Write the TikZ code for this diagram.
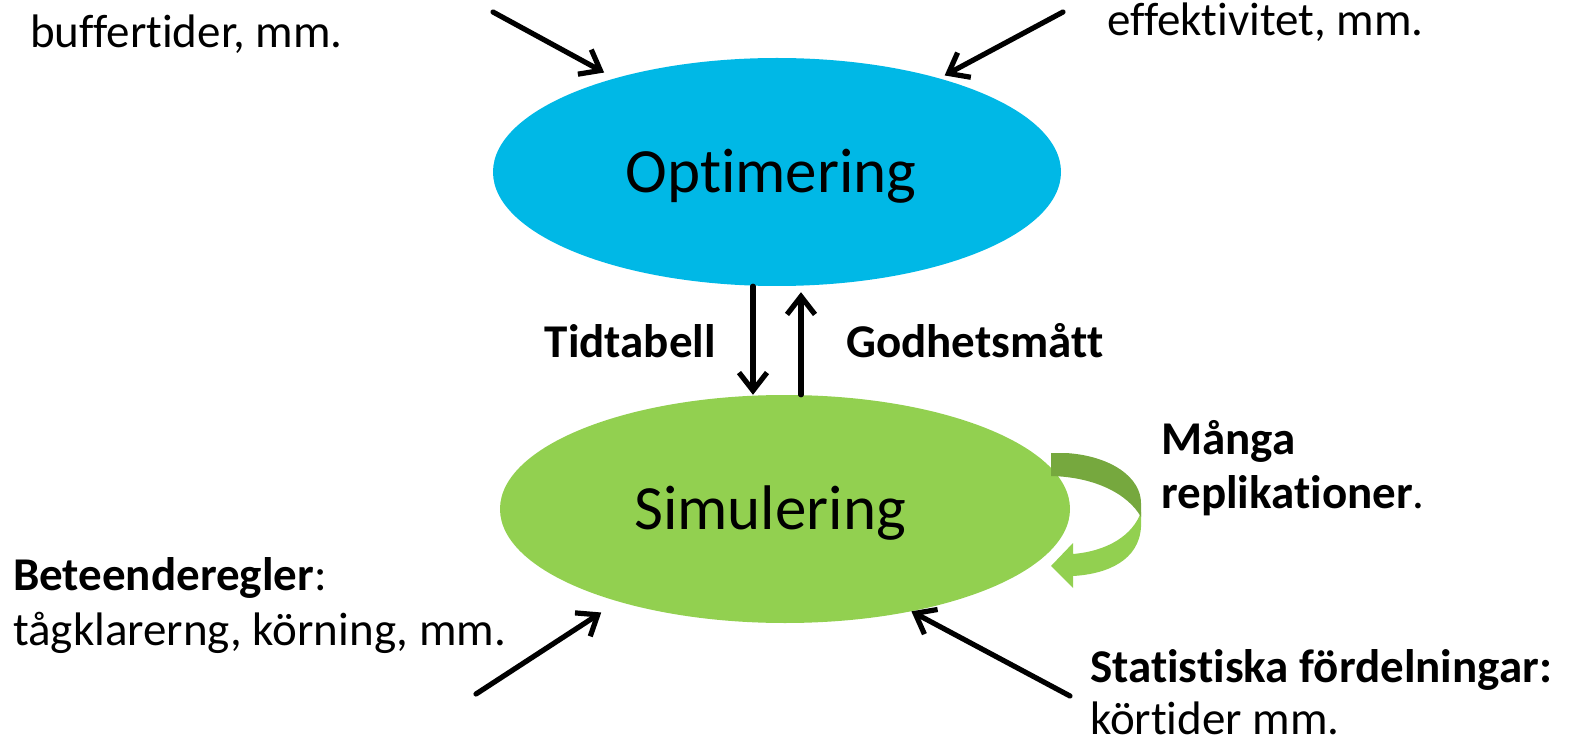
\documentclass[tikz,border=0pt]{standalone}
\usepackage{fontspec}
\setmainfont{Carlito}[Ligatures={NoCommon}]
\usetikzlibrary{shapes.geometric,arrows.meta}
\definecolor{optblue}{RGB}{0,184,230}
\definecolor{simgreen}{RGB}{146,208,80}
\definecolor{loopdark}{RGB}{118,168,62}
\tikzset{
  blob/.style={ellipse, minimum width=568pt, minimum height=228pt, inner sep=0pt, draw=none},
  big/.style={font=\fontsize{63}{76}\selectfont, inner sep=0pt, anchor=base},
  lbl/.style={font=\fontsize{47}{56}\selectfont, inner sep=0pt, anchor=base west},
  arr/.style={line width=5.2pt, line cap=round, -{Straight Barb[length=18pt,width=28pt]}},
}
\begin{document}
\begin{tikzpicture}[x=1pt,y=-1pt]
\useasboundingbox (0,0) rectangle (1569,743);

% the two process ellipses
\node[blob, fill=optblue] (opt) at (777,172) {};
\node[big] (optlabel) at (771,193) {Optimering};
\node[blob, fill=simgreen, minimum width=570pt] (sim) at (785,509) {};
\node[big] (simlabel) at (770,529) {Simulering};

% looping ribbon arrow: repeated replications
\fill[simgreen] (1141,512) -- (1141,527)
  .. controls (1139,560) and (1108,574) .. (1073,576)
  -- (1073,588) -- (1051,566) -- (1073,543) -- (1073,554)
  .. controls (1108,551) and (1133,535) .. (1141,512) -- cycle;
\fill[loopdark] (1051,453) -- (1066,453)
  .. controls (1112,456) and (1141,478) .. (1141,503)
  -- (1141,517)
  .. controls (1128,494) and (1095,477) .. (1051,476) -- cycle;

% text blocks
\node[lbl] (buf) at (30,48) {buffertider, mm.};
\node[lbl] (eff) at (1107,36) {effektivitet, mm.};
\node[lbl, anchor=base east] (tid) at (716,357) {\bfseries Tidtabell};
\node[lbl] (god) at (846,357) {\bfseries Godhetsmått};
\node[lbl] (many1) at (1161,454) {\bfseries Många};
\node[lbl] (many2) at (1161,508) {\textbf{replikationer}.};
\node[lbl] (beh1) at (13,590) {\textbf{Beteenderegler}:};
\node[lbl] (beh2) at (13,645) {tågklarerng, körning, mm.};
\node[lbl] (stat1) at (1090,682) {\bfseries Statistiska fördelningar:};
\node[lbl] (stat2) at (1090,734) {körtider mm.};

% input arrows
\coordinate (bufarrow) at (493,12);
\coordinate (effarrow) at (1063,12);
\coordinate (beharrow) at (476,694);
\coordinate (statarrow) at (1070,696);
\draw[arr, shorten >=12pt] (bufarrow) -- (opt.150.7);
\draw[arr, shorten >=6pt] (effarrow) -- (opt.30.1);
\draw[arr, shorten >=20pt] (beharrow) -- (sim.209.5);
\draw[arr] (statarrow) -- (sim.321.6);

% exchange between optimisation and simulation
\draw[arr] ([xshift=-24pt]opt.south) -- ([xshift=-24pt]opt.south |- sim.north);
\draw[arr, shorten >=6pt] ([xshift=16pt]sim.north) -- ([xshift=16pt]sim.north |- opt.south);
\end{tikzpicture}
\end{document}
